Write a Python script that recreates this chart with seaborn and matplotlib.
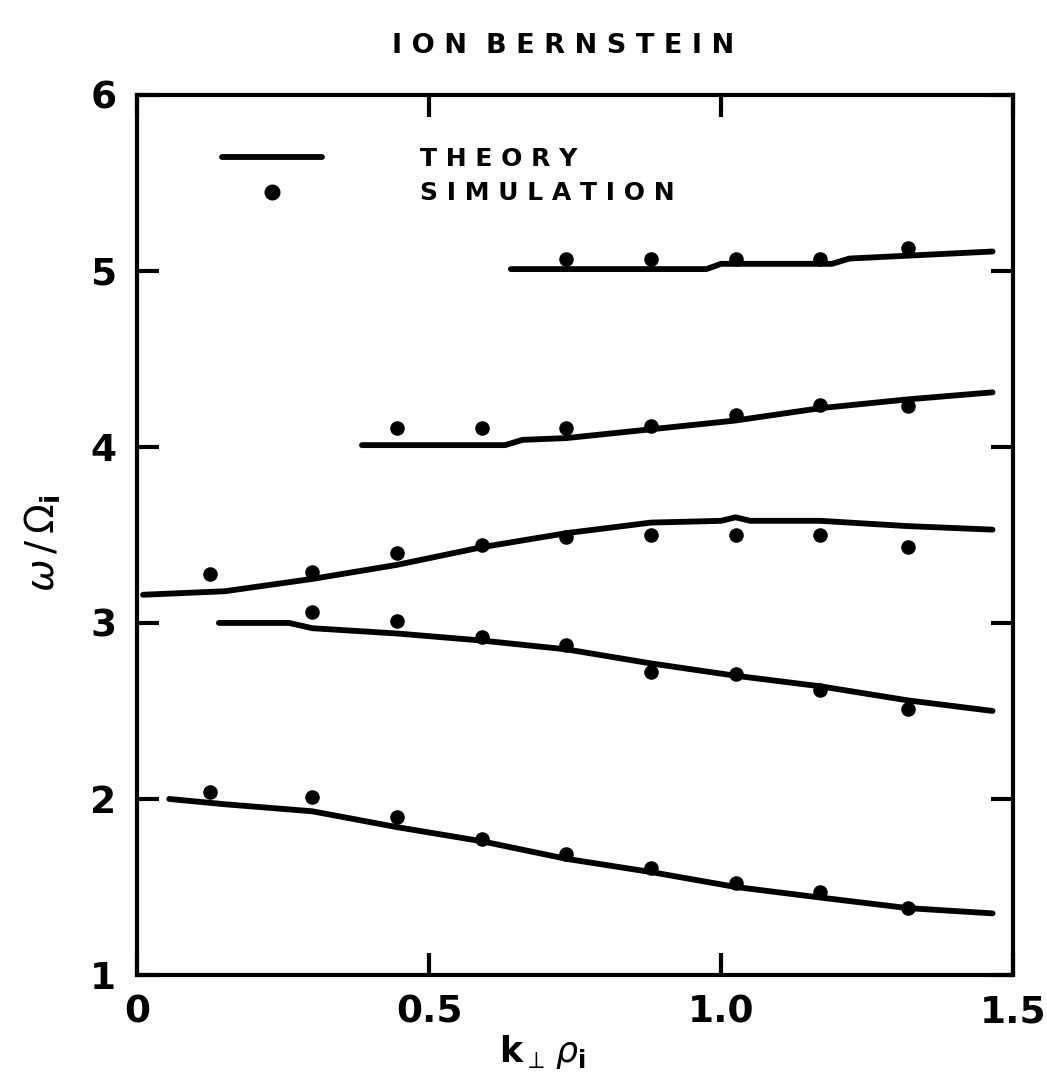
import numpy as np
import pandas as pd
import matplotlib
matplotlib.use("Agg")
import matplotlib.pyplot as plt
from matplotlib.lines import Line2D
import seaborn as sns

# ---- theory branches (k_perp rho_i, omega / Omega_i) ----
b1_k = [0.055, 0.15, 0.30, 0.445, 0.59, 0.735, 0.88, 1.025, 1.17, 1.32, 1.465]
b1_w = [2.00, 1.97, 1.93, 1.84, 1.76, 1.66, 1.585, 1.50, 1.44, 1.38, 1.35]

b2_k = [0.14, 0.26, 0.30, 0.445, 0.59, 0.735, 0.88, 1.025, 1.17, 1.32, 1.465]
b2_w = [3.00, 3.00, 2.97, 2.94, 2.90, 2.85, 2.77, 2.70, 2.64, 2.56, 2.50]

b3_k = [0.01, 0.15, 0.30, 0.445, 0.59, 0.735, 0.88, 1.00, 1.025, 1.05, 1.17, 1.32, 1.465]
b3_w = [3.16, 3.18, 3.25, 3.33, 3.43, 3.51, 3.57, 3.58, 3.60, 3.58, 3.58, 3.55, 3.53]

b4_k = [0.385, 0.63, 0.66, 0.735, 0.88, 1.025, 1.17, 1.32, 1.465]
b4_w = [4.01, 4.01, 4.04, 4.05, 4.10, 4.15, 4.22, 4.27, 4.31]

b5_k = [0.64, 0.975, 1.00, 1.19, 1.22, 1.465]
b5_w = [5.01, 5.01, 5.04, 5.04, 5.07, 5.11]

# ---- simulation points ----
sim_k = [0.125, 0.30, 0.445, 0.59, 0.735, 0.88, 1.025, 1.17, 1.32]
s1_w = [2.04, 2.01, 1.90, 1.77, 1.69, 1.61, 1.52, 1.47, 1.38]
s2_w = [3.06, 3.01, 2.92, 2.875, 2.72, 2.71, 2.62, 2.51]          # from k = 0.30
s3_w = [3.28, 3.29, 3.40, 3.44, 3.49, 3.50, 3.50, 3.50, 3.43]
s4_w = [4.11, 4.11, 4.11, 4.12, 4.18, 4.24, 4.23]                  # from k = 0.445
s5_w = [5.07, 5.07, 5.07, 5.07, 5.13]                              # from k = 0.735

x_ticks = [0, 0.5, 1.0, 1.5]
x_ticklabels = ["0", "0.5", "1.0", "1.5"]
y_ticks = [1, 2, 3, 4, 5, 6]
y_ticklabels = ["1", "2", "3", "4", "5", "6"]

theory = pd.concat([
    pd.DataFrame({"k": k, "w": w, "branch": i})
    for i, (k, w) in enumerate([(b1_k, b1_w), (b2_k, b2_w), (b3_k, b3_w),
                                (b4_k, b4_w), (b5_k, b5_w)])
], ignore_index=True)

sim = pd.concat([
    pd.DataFrame({"k": sim_k[len(sim_k) - len(w):], "w": w})
    for w in [s1_w, s2_w, s3_w, s4_w, s5_w]
], ignore_index=True)

sns.set_style("ticks")
plt.rcParams["font.family"] = ["DejaVu Sans"]
plt.rcParams["mathtext.fontset"] = "dejavusans"
for key in ["text.color", "axes.labelcolor", "xtick.color", "ytick.color",
            "axes.edgecolor"]:
    plt.rcParams[key] = "black"

fig = plt.figure(figsize=(10.47, 10.9), dpi=100)
ax = fig.add_axes([0.131, 0.1055, 0.8365, 0.8075])

sns.lineplot(data=theory, x="k", y="w", units="branch", estimator=None,
             sort=False, color="black", lw=4.2, legend=False, ax=ax)
sns.scatterplot(data=sim, x="k", y="w", color="black", s=110, marker="o",
                edgecolor="black", linewidth=0, legend=False, ax=ax)

ax.set_xlim(0, 1.5)
ax.set_ylim(1, 6)
ax.set_xticks(x_ticks)
ax.set_xticklabels(x_ticklabels)
ax.set_yticks(y_ticks)
ax.set_yticklabels(y_ticklabels)
ax.tick_params(direction="in", length=16, width=3, top=True, right=True,
               labelsize=27, color="black", labelcolor="black")
ax.tick_params(axis="y", pad=15)
ax.tick_params(axis="x", pad=14)
for lab in ax.get_xticklabels() + ax.get_yticklabels():
    lab.set_fontweight("bold")
for sp in ax.spines.values():
    sp.set_linewidth(3)
    sp.set_color("black")

ax.set_xlabel(r"$\mathbf{k}_{\perp}\,\rho_{\mathbf{i}}$", fontsize=25)
ax.xaxis.set_label_coords(0.463, -0.066)
ax.set_ylabel(r"$\omega\,/\,\Omega_{\mathbf{i}}$", fontsize=28)
ax.yaxis.set_label_coords(-0.085, 0.49)

fig.text(0.538, 0.958, "I O N  B E R N S T E I N", ha="center", va="center",
         fontsize=19.5, fontweight="bold")

handles = [
    Line2D([], [], color="black", lw=4.2),
    Line2D([], [], color="black", marker="o", markersize=10.5, lw=0),
]
leg = ax.legend(handles, ["T H E O R Y", "S I M U L A T I O N"],
                loc="upper left", bbox_to_anchor=(0.097, 0.941),
                frameon=False, borderpad=0, borderaxespad=0,
                handlelength=4.0, handletextpad=3.9, labelspacing=0.42,
                prop={"weight": "bold", "size": 18})

fig.savefig("out.png", dpi=100, facecolor="white")
